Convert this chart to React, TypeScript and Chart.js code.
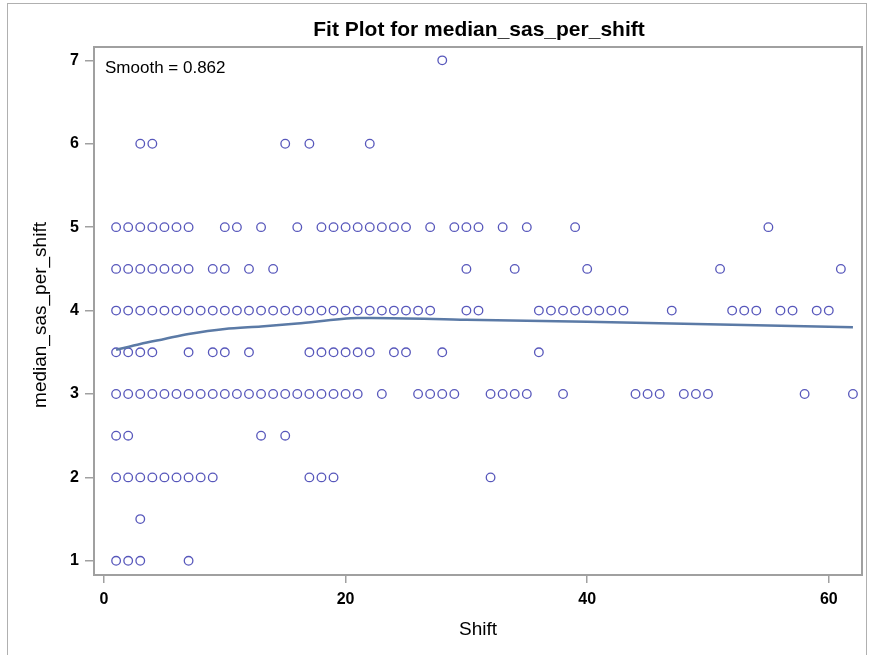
import React, { useEffect, useRef } from "react";
import { Chart, registerables } from "chart.js";

Chart.register(...registerables);

// Shift values observed at each median_sas_per_shift level
const shiftsAt1 = [1, 2, 3, 7];
const shiftsAt1_5 = [3];
const shiftsAt2 = [1, 2, 3, 4, 5, 6, 7, 8, 9, 17, 18, 19, 32];
const shiftsAt2_5 = [1, 2, 13, 15];
const shiftsAt3 = [1, 2, 3, 4, 5, 6, 7, 8, 9, 10, 11, 12, 13, 14, 15, 16, 17, 18, 19, 20, 21, 23, 26, 27, 28, 29, 32, 33, 34, 35, 38, 44, 45, 46, 48, 49, 50, 58, 62];
const shiftsAt3_5 = [1, 2, 3, 4, 7, 9, 10, 12, 17, 18, 19, 20, 21, 22, 24, 25, 28, 36];
const shiftsAt4 = [1, 2, 3, 4, 5, 6, 7, 8, 9, 10, 11, 12, 13, 14, 15, 16, 17, 18, 19, 20, 21, 22, 23, 24, 25, 26, 27, 30, 31, 36, 37, 38, 39, 40, 41, 42, 43, 47, 52, 53, 54, 56, 57, 59, 60];
const shiftsAt4_5 = [1, 2, 3, 4, 5, 6, 7, 9, 10, 12, 14, 30, 34, 40, 51, 61];
const shiftsAt5 = [1, 2, 3, 4, 5, 6, 7, 10, 11, 13, 16, 18, 19, 20, 21, 22, 23, 24, 25, 27, 29, 30, 31, 33, 35, 39, 55];
const shiftsAt6 = [3, 4, 15, 17, 22];
const shiftsAt7 = [28];

const levels = [1, 1.5, 2, 2.5, 3, 3.5, 4, 4.5, 5, 6, 7];
const shiftsByLevel = [shiftsAt1, shiftsAt1_5, shiftsAt2, shiftsAt2_5, shiftsAt3, shiftsAt3_5, shiftsAt4, shiftsAt4_5, shiftsAt5, shiftsAt6, shiftsAt7];

// Loess smooth curve
const smoothX = [1, 3, 5, 7, 10, 13, 16, 21, 30, 40, 50, 62];
const smoothY = [3.53, 3.6, 3.66, 3.72, 3.78, 3.81, 3.845, 3.91, 3.89, 3.865, 3.835, 3.80];

const xTicks = [0, 20, 40, 60];
const yTicks = [1, 2, 3, 4, 5, 6, 7];

const titleText = "Fit Plot for median_sas_per_shift";
const xTitle = "Shift";
const yTitle = "median_sas_per_shift";
const smoothLabel = "Smooth = 0.862";

const FONT = "'Liberation Sans', Arial, sans-serif";

export default function App() {
  const ref = useRef<HTMLCanvasElement | null>(null);

  useEffect(() => {
    if (!ref.current) return;
    const points: { x: number; y: number }[] = [];
    levels.forEach((lv, i) => {
      shiftsByLevel[i].forEach((s) => points.push({ x: s, y: lv }));
    });
    const smooth = smoothX.map((x, i) => ({ x, y: smoothY[i] }));

    const decor = {
      id: "decor",
      afterDraw(chart: any) {
        const { ctx, chartArea } = chart;
        const { left, right, top, bottom } = chartArea;
        ctx.save();
        ctx.strokeStyle = "#a0a0a0";
        ctx.lineWidth = 2;
        ctx.strokeRect(left, top, right - left, bottom - top);
        ctx.fillStyle = "#000";
        ctx.textAlign = "center";
        ctx.textBaseline = "middle";
        ctx.font = `bold 21px ${FONT}`;
        ctx.fillText(titleText, (left + right) / 2 + 1, 30);
        ctx.font = `19px ${FONT}`;
        ctx.fillText(xTitle, (left + right) / 2, 630);
        ctx.save();
        ctx.translate(41, (top + bottom) / 2 + 4);
        ctx.rotate(-Math.PI / 2);
        ctx.fillText(yTitle, 0, 0);
        ctx.restore();
        ctx.textAlign = "left";
        ctx.font = `17px ${FONT}`;
        ctx.fillText(smoothLabel, left + 11, 68);
        ctx.restore();
      },
    };

    const chart = new Chart(ref.current, {
      type: "scatter",
      data: {
        datasets: [
          {
            type: "line",
            data: smooth,
            borderColor: "#5b7aa6",
            borderWidth: 2.5,
            pointRadius: 0,
            tension: 0.3,
            fill: false,
            order: 1,
          } as any,
          {
            data: points,
            pointStyle: "circle",
            pointRadius: 4.3,
            borderWidth: 1.3,
            borderColor: "rgba(45,45,170,0.8)",
            backgroundColor: "rgba(0,0,0,0)",
            order: 2,
          },
        ],
      },
      plugins: [decor],
      options: {
        animation: false,
        responsive: false,
        layout: { padding: { left: 0, right: 8, top: 47, bottom: 0 } },
        plugins: { legend: { display: false }, tooltip: { enabled: false }, title: { display: false } },
        scales: {
          x: {
            type: "linear",
            min: -0.83,
            max: 62.75,
            afterBuildTicks: (s: any) => { s.ticks = xTicks.map((v) => ({ value: v })); },
            afterFit: (s: any) => { s.height = 80; },
            grid: { drawOnChartArea: false, drawTicks: true, tickLength: 8, color: "#a0a0a0", lineWidth: 1.5 },
            border: { display: false },
            ticks: { color: "#000", font: { family: FONT, size: 16, weight: "bold" }, padding: 7, maxRotation: 0 },
          },
          y: {
            type: "linear",
            min: 0.83,
            max: 7.16,
            afterBuildTicks: (s: any) => { s.ticks = yTicks.map((v) => ({ value: v })); },
            afterFit: (s: any) => { s.width = 94; },
            grid: { drawOnChartArea: false, drawTicks: true, tickLength: 9, color: "#a0a0a0", lineWidth: 1.5 },
            border: { display: false },
            ticks: { color: "#000", font: { family: FONT, size: 16, weight: "bold" }, padding: 6 },
          },
        },
      },
    });
    return () => chart.destroy();
  }, []);

  return (
    <div style={{ position: "absolute", left: 0, top: 0, width: 870, height: 655, background: "#fff", overflow: "hidden" }}>
      <div style={{ position: "absolute", left: 7, top: 3, width: 858, height: 700, border: "1px solid #b0b0b0" }} />
      <canvas ref={ref} width={870} height={655} style={{ position: "absolute", left: 0, top: 0 }} />
    </div>
  );
}
